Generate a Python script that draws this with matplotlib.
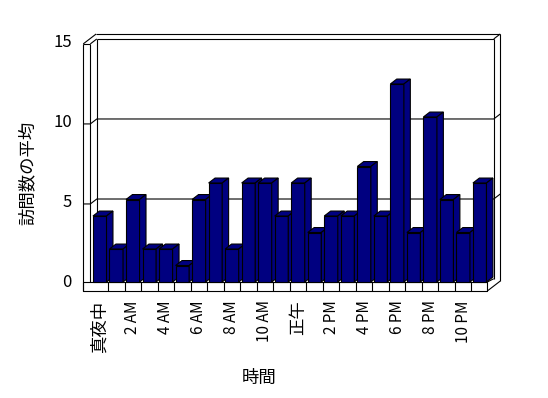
import matplotlib
matplotlib.use("Agg")
import matplotlib.pyplot as plt
from matplotlib.patches import Polygon

plt.rcParams['font.family'] = ['Noto Sans CJK JP', 'DejaVu Sans']

# data
hours = list(range(24))
visits = [4, 2, 5, 2, 2, 1, 5, 6, 2, 6, 6, 4,
          6, 3, 4, 4, 7, 4, 12, 3, 10, 5, 3, 6]
tick_pos = list(range(0, 24, 2))
tick_labels = ['真夜中', '2 AM', '4 AM', '6 AM', '8 AM', '10 AM',
               '正午', '2 PM', '4 PM', '6 PM', '8 PM', '10 PM']
y_ticks = [0, 5, 10, 15]
x_title = '時間'
y_title = '訪問数の平均'

# layout (data units: 1 category wide, 1 visit tall)
DX, DY = 0.39, 0.30          # 3d depth offset
BAR_W = 0.82
X_OUT, X_IN = -1.0, -0.57    # left wall front face
X_RIGHT = 23.46              # right end of floor strip
FLOOR_B = -0.545
FY0, FK = -0.12, 0.97        # front axis: value -> y


def fy(v):
    return FY0 + FK * v


def by(v):
    return fy(v) + DY


fig = plt.figure(figsize=(5.48, 3.98), dpi=100)
ax = fig.add_axes([0, 0, 1, 1])
ax.set_xlim((0 - 99.75) / 16.52, (548 - 99.75) / 16.52)
ax.set_ylim((282 - 398) / 16.5, 282 / 16.5)
ax.axis('off')

lw = 0.8
k = dict(color='black', lw=lw, solid_capstyle='butt', zorder=1)
top = y_ticks[-1]

# left wall
ax.plot([X_OUT, X_OUT], [FLOOR_B, fy(top)], **k)
ax.plot([X_IN, X_IN], [0, fy(top)], **k)
ax.plot([X_IN + DX, X_IN + DX], [by(0), by(top)], **k)
ax.plot([X_OUT, X_IN], [fy(top), fy(top)], **k)
ax.plot([X_OUT, X_IN + DX - 0.04], [fy(top), by(top) + DY], **k)
ax.plot([X_IN, X_IN + DX], [fy(top), by(top)], **k)

# back wall top and right side
xr_in = X_RIGHT + DX
xr_out = X_RIGHT + 2 * DX
ax.plot([X_IN + DX, xr_in], [by(top), by(top)], **k)
ax.plot([X_IN + DX - 0.04, xr_out], [by(top) + DY, by(top) + DY], **k)
ax.plot([xr_in, xr_out], [by(top), by(top) + DY], **k)
ax.plot([xr_in, xr_in], [0.2, by(top)], **k)
ax.plot([xr_out, xr_out], [FLOOR_B + 2 * DY, by(top) + DY], **k)

# gridlines
for v in y_ticks[1:-1]:
    ax.plot([X_OUT, X_IN, X_IN + DX, xr_in, xr_out],
            [fy(v), fy(v), by(v), by(v), by(v) + DY], **k)

# floor strip
ax.plot([X_OUT, X_RIGHT, X_RIGHT, X_OUT, X_OUT],
        [0, 0, FLOOR_B, FLOOR_B, 0], **k)
for i in hours[:-1]:
    ax.plot([i + 0.5, i + 0.5], [FLOOR_B, 0], **k)
ax.plot([X_RIGHT, xr_out], [FLOOR_B, FLOOR_B + 2 * DY], **k)
ax.plot([X_RIGHT, xr_in], [0, 0.2], **k)

# bars
navy = '#000080'
bars = ax.bar(hours, visits, width=BAR_W, color=navy, edgecolor='black',
              linewidth=lw)
for i, (b, v) in enumerate(zip(bars, visits)):
    z = 3 + i
    b.set_zorder(z)
    x0 = i - BAR_W / 2
    x1 = i + BAR_W / 2
    t = Polygon([(x0, v), (x0 + DX, v + DY), (x1 + DX, v + DY), (x1, v)],
                closed=True, fc=navy, ec='black', lw=lw, zorder=z)
    s = Polygon([(x1, 0), (x1, v), (x1 + DX, v + DY), (x1 + DX, DY)],
                closed=True, fc=navy, ec='black', lw=lw, zorder=z)
    ax.add_patch(t)
    ax.add_patch(s)

# tick labels
for v in y_ticks:
    ax.text(-1.68, fy(v) + 0.1, str(v), ha='right', va='center', fontsize=12)
for p, lab in zip(tick_pos, tick_labels):
    size = 11 if lab.isascii() else 12.5
    ax.text(p, -1.12, lab, rotation=90, ha='center', va='top', fontsize=size)

ax.text(9.64, -5.8, x_title, ha='center', va='center', fontsize=12.5)
ax.text(-4.38, 6.6, y_title, rotation=90, ha='center', va='center',
        fontsize=12.5)

fig.savefig('out.png', dpi=100)
